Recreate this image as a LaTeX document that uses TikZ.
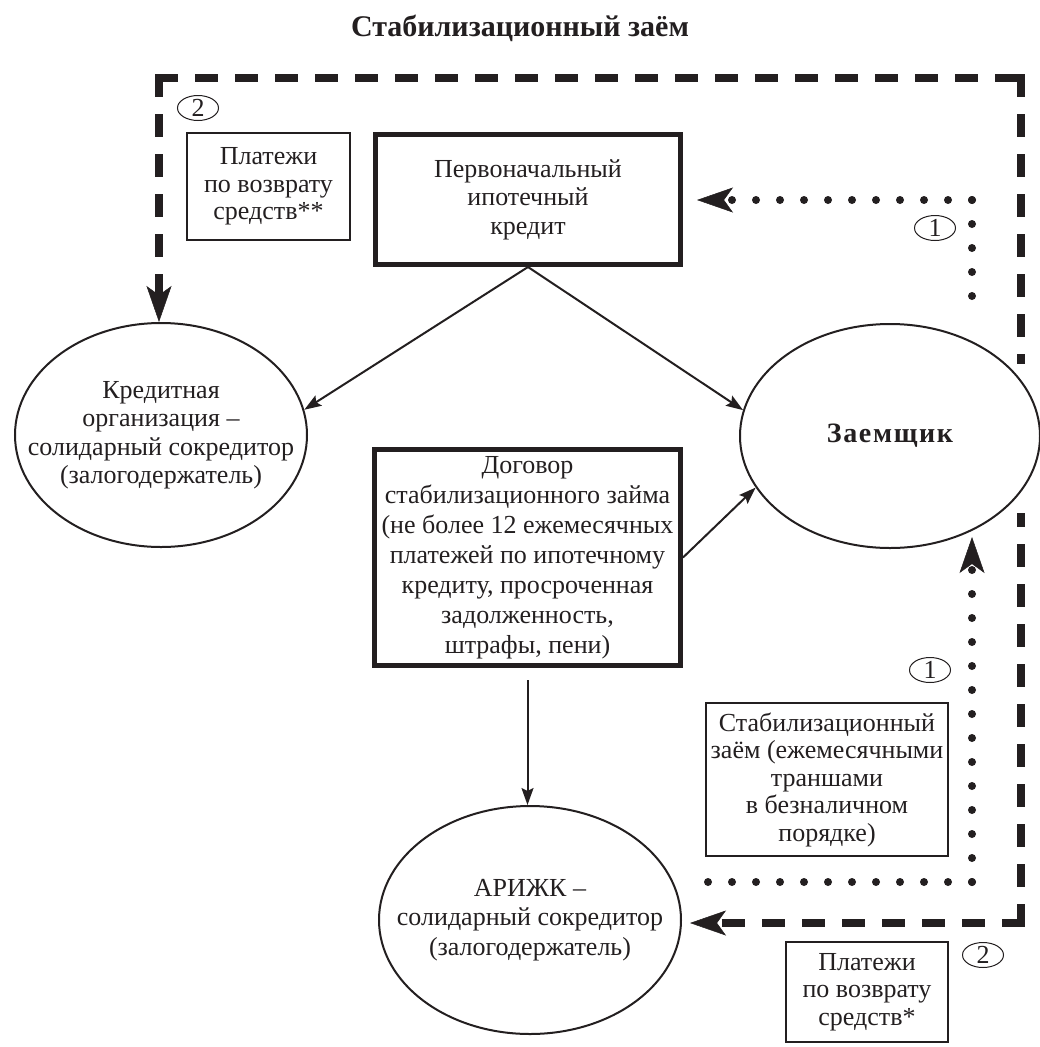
\documentclass[tikz,border=0pt]{standalone}
\usepackage{fontspec}
\setmainfont{Liberation Serif}
\newfontfamily\spacedbold[LetterSpace=6]{Liberation Serif}
\usetikzlibrary{arrows.meta,shapes.geometric}
\pgfdeclarelayer{bg}
\pgfsetlayers{bg,main}
\definecolor{ink}{HTML}{231F20}
\begin{document}
\begin{tikzpicture}[x=1pt,y=-1pt,
  every node/.style={text=ink},
  txt/.style={font=\fontsize{26}{28.5}\selectfont, align=center},
  thickbox/.style={draw=ink, line width=5pt, txt, inner sep=0pt},
  thinbox/.style={draw=ink, line width=1.2pt, txt, inner sep=0pt},
  oval/.style={ellipse, draw=ink, line width=2pt, fill=white, inner sep=0pt},
  circnum/.style={ellipse, draw=ink, line width=1pt, minimum width=41pt, minimum height=25pt, inner sep=0pt, font=\fontsize{26}{26}\selectfont},
  arr/.style={draw=ink, line width=2pt, -{Stealth[length=17pt,width=12pt,inset=3pt]}},
  bigtip/.style={-{Stealth[length=36pt,width=25pt,inset=9pt,line width=0.5pt]}},
  dashline/.style={draw=ink, line width=8pt, line cap=rect, dash pattern=on 15pt off 25pt},
  dotline/.style={draw=ink, line width=8pt, line cap=round, dash pattern=on 0pt off 24pt},
]
\useasboundingbox (0,0) rectangle (1040,1047);

\node[font=\fontsize{30}{34}\selectfont\bfseries] (title) at (520,28) {Стабилизационный заём};

\node[thickbox, minimum width=305pt, minimum height=130pt] (orig) at (528,199.5)
  {Первоначальный\\ипотечный\\кредит};
\node[thickbox, minimum width=306pt, minimum height=216pt, font=\fontsize{26}{30}\selectfont] (dog) at (527.5,557.5)
  {Договор\\стабилизационного займа\\(не более 12 ежемесячных\\платежей по ипотечному\\кредиту, просроченная\\задолженность,\\штрафы, пени)};

\node[oval, minimum width=292pt, minimum height=224pt,
  label={[txt]center:{Кредитная\\организация –\\солидарный сокредитор\\(залогодержатель)}}] (kred) at (161,435) {};
\node[oval, minimum width=300pt, minimum height=224pt,
  label={[font=\spacedbold\fontsize{28}{30}\selectfont\bfseries]center:Заемщик}] (zaem) at (890,436) {};
\node[oval, minimum width=302pt, minimum height=228pt,
  label={[txt, font=\fontsize{26}{29.5}\selectfont]center:{АРИЖК –\\солидарный сокредитор\\(залогодержатель)}}] (arizhk) at (530,920) {};

\node[thinbox, minimum width=163pt, minimum height=107pt, font=\fontsize{26}{27.5}\selectfont] (pay2) at (268.5,186.5)
  {Платежи\\по возврату\\средств**};
\node[thinbox, minimum width=242pt, minimum height=153pt, font=\fontsize{26}{27.5}\selectfont] (stab) at (827,779.5)
  {Стабилизационный\\заём (ежемесячными\\траншами\\в безналичном\\порядке)};
\node[thinbox, minimum width=162pt, minimum height=100pt, font=\fontsize{26}{27.5}\selectfont] (pay1) at (867,992)
  {Платежи\\по возврату\\средств*};

\node[circnum] (n2a) at (198,108) {2};
\node[circnum] (n1a) at (935,228) {1};
\node[circnum] (n1b) at (930,670) {1};
\node[circnum] (n2b) at (983,955) {2};

\coordinate (TL) at (159,78);
\coordinate (TR) at (1021,78);
\coordinate (BR) at (1021,923);
\coordinate (Rgap1) at (1021,360);
\coordinate (Rgap2) at (1021,517);
\coordinate (d1c) at (972,200);
\coordinate (d1s) at (972,318);
\coordinate (d2c) at (972,882);
\coordinate (d2s) at (695,882);
\coordinate (d2e) at (972,537);

\draw[arr] (orig.south) -- (kred.10);
\draw[arr] (orig.south) -- (zaem.170);
\draw[arr] (dog.east) -- (zaem.201);
\draw[arr, shorten <=12pt] (dog.south) -- (dog.south |- arizhk.north);

\begin{pgfonlayer}{bg}
\draw[dashline] (TL) -- (TR);
\draw[dashline] (TR) -- (Rgap1);
\draw[dashline] (BR) -- (Rgap2);
\draw[dashline, bigtip] (TL) -- (TL |- kred.north);
\draw[dashline, bigtip, shorten >=8pt] (BR) -- (arizhk.east |- BR);
\draw[dotline] (d1c) -- (d1s);
\draw[dotline, bigtip, shorten >=14pt] (d1c) -- (orig.east |- d1c);
\draw[dotline] (d2c) -- (d2s);
\draw[dotline, bigtip] (d2c) -- (d2e);
\end{pgfonlayer}
\end{tikzpicture}
\end{document}
